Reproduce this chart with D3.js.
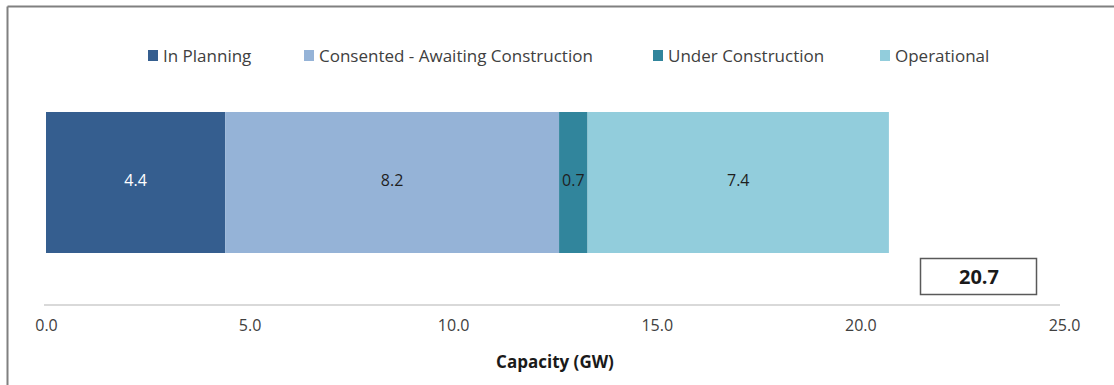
<!DOCTYPE html>
<html>
<head>
<meta charset="utf-8">
<script src="https://cdn.jsdelivr.net/npm/d3@7"></script>
<style>
  html, body { margin: 0; padding: 0; background: #fff; }
  svg { display: block; font-family: "Open Sans", "Noto Sans", sans-serif; }
</style>
</head>
<body>
<svg id="chart" width="1114" height="385"></svg>
<script>
// Pipeline stages and their capacity (GW)
const stages = ["In Planning", "Consented - Awaiting Construction", "Under Construction", "Operational"];
const capacity = [4.4, 8.2, 0.7, 7.4];
const stageColors = ["#355e8f", "#95b3d7", "#31859c", "#92cddc"];
const labelColors = ["#ffffff", "#1f1f1f", "#1f1f1f", "#1f1f1f"];
const xTicks = [0, 5, 10, 15, 20, 25];
const totalLabel = "20.7";
const axisTitle = "Capacity (GW)";

const svg = d3.select("#chart");
const W = 1114, H = 385;

// frame lines (top and left)
svg.append("line").attr("x1", 7.5).attr("x2", W).attr("y1", 6.5).attr("y2", 6.5)
  .attr("stroke", "#808080").attr("stroke-width", 2);
svg.append("line").attr("x1", 7.5).attr("x2", 7.5).attr("y1", 6.5).attr("y2", H)
  .attr("stroke", "#808080").attr("stroke-width", 2);

const x = d3.scaleLinear().domain([0, 25]).range([46, 1064]);
const barTop = 112, barBottom = 253;

// stacked segments
let acc = 0;
const segs = capacity.map((v, i) => {
  const s = { name: stages[i], start: acc, end: acc + v, value: v, i };
  acc += v;
  return s;
});

const g = svg.append("g");
g.selectAll("rect.seg").data(segs).join("rect")
  .attr("class", "seg")
  .attr("x", d => x(d.start))
  .attr("y", barTop)
  .attr("width", d => x(d.end) - x(d.start))
  .attr("height", barBottom - barTop)
  .attr("fill", d => stageColors[d.i]);

g.selectAll("text.val").data(segs).join("text")
  .attr("class", "val")
  .attr("x", d => (x(d.start) + x(d.end)) / 2)
  .attr("y", (barTop + barBottom) / 2 - 2)
  .attr("dy", "0.35em")
  .attr("text-anchor", "middle")
  .attr("font-size", 16)
  .attr("fill", d => labelColors[d.i])
  .text(d => d.value.toFixed(1));

// x axis
const axisY = 305;
const axis = svg.append("g").attr("transform", `translate(0,${axisY})`)
  .call(d3.axisBottom(x).tickValues(xTicks).tickFormat(d3.format(".1f")).tickSize(0).tickPadding(15));
axis.select(".domain").attr("stroke", "#d9d9d9").attr("stroke-width", 2)
  .attr("d", `M${x(0) - 2},0H${x(25) - 4}`);
axis.selectAll("text").attr("font-size", 16).attr("fill", "#404040")
  .attr("font-family", "Open Sans, sans-serif");

svg.append("text")
  .attr("x", 555).attr("y", 362).attr("dy", "0.35em")
  .attr("text-anchor", "middle")
  .attr("font-size", 17).attr("font-weight", "bold").attr("fill", "#1a1a1a")
  .text(axisTitle);

// total box
svg.append("rect").attr("x", 920.5).attr("y", 258.5).attr("width", 116).attr("height", 36)
  .attr("fill", "#fff").attr("stroke", "#595959").attr("stroke-width", 1.5);
svg.append("text").attr("x", 979).attr("y", 277).attr("dy", "0.35em")
  .attr("text-anchor", "middle").attr("font-size", 20).attr("font-weight", "bold")
  .attr("fill", "#1a1a1a").text(totalLabel);

// legend
const legendX = [148, 304, 653, 880];
const leg = svg.append("g");
stages.forEach((s, i) => {
  leg.append("rect").attr("x", legendX[i]).attr("y", 50).attr("width", 10).attr("height", 11)
    .attr("fill", stageColors[i]);
  leg.append("text").attr("x", legendX[i] + 15).attr("y", 56).attr("dy", "0.35em")
    .attr("font-size", 17).attr("fill", "#404040").text(s);
});
</script>
</body>
</html>
